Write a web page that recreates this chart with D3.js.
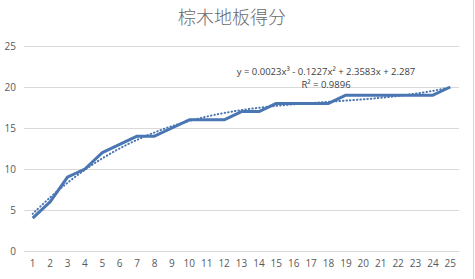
<!DOCTYPE html>
<html>
<head>
<meta charset="utf-8">
<script src="https://cdn.jsdelivr.net/npm/d3@7"></script>
<style>
  body { margin: 0; background: #fff; }
  svg { display: block; }
</style>
</head>
<body>
<div class="top"></div>
<script>
// chart data
const title = '棕木地板得分';
const categories = d3.range(1, 26).map(String);
const scores = [4, 6, 9, 10, 12, 13, 14, 14, 15, 16, 16, 16, 17, 17, 18, 18, 18, 18, 19, 19, 19, 19, 19, 19, 20];
const yTicks = [0, 5, 10, 15, 20, 25];
const trendLabel = 'y = 0.0023x³ - 0.1227x² + 2.3583x + 2.287';
const r2Label = 'R² = 0.9896';

const width = 475;
const height = 279;
const margin = { top: 46, right: 16, bottom: 28, left: 24 };

// least squares cubic fit of the scores (what the sheet's trendline is)
function polyFit(xs, ys, deg) {
  const n = deg + 1;
  const A = d3.range(n).map(r => d3.range(n + 1).map(c => 0));
  xs.forEach((xv, i) => {
    for (let r = 0; r < n; r++) {
      for (let c = 0; c < n; c++) A[r][c] += Math.pow(xv, r + c);
      A[r][n] += ys[i] * Math.pow(xv, r);
    }
  });
  for (let p = 0; p < n; p++) {
    let best = p;
    for (let r = p + 1; r < n; r++) if (Math.abs(A[r][p]) > Math.abs(A[best][p])) best = r;
    [A[p], A[best]] = [A[best], A[p]];
    for (let r = 0; r < n; r++) {
      if (r === p) continue;
      const f = A[r][p] / A[p][p];
      for (let c = p; c <= n; c++) A[r][c] -= f * A[p][c];
    }
  }
  return A.map((row, r) => row[n] / row[r]);
}

const xsNum = categories.map(Number);
const coef = polyFit(xsNum, scores, 3);
const trendAt = v => coef.reduce((s, c, k) => s + c * Math.pow(v, k), 0);

const svg = d3.select('.top').append('svg')
  .attr('width', width)
  .attr('height', height);

const x = d3.scaleBand()
  .domain(categories)
  .range([margin.left, width - margin.right])
  .padding(0);

const y = d3.scaleLinear()
  .domain([0, 25])
  .range([height - margin.bottom, margin.top]);

const cx = d => x(d) + x.bandwidth() / 2;

// title
svg.append('text')
  .attr('x', 232)
  .attr('y', 24)
  .attr('text-anchor', 'middle')
  .attr('font-family', '"Noto Sans CJK SC", sans-serif')
  .attr('font-weight', 300)
  .attr('font-size', 18)
  .attr('fill', '#6a6a6a')
  .text(title);

// gridlines
svg.append('g')
  .selectAll('line')
  .data(yTicks)
  .join('line')
  .attr('x1', margin.left)
  .attr('x2', width - margin.right)
  .attr('y1', d => Math.round(y(d)) + 0.5)
  .attr('y2', d => Math.round(y(d)) + 0.5)
  .attr('stroke', '#d9d9d9')
  .attr('stroke-width', 1);

// y axis labels
const yAxis = svg.append('g')
  .attr('transform', `translate(${margin.left - 8},0)`)
  .call(d3.axisLeft(y).tickValues(yTicks).tickSize(0).tickPadding(0));
yAxis.select('.domain').remove();
yAxis.selectAll('text')
  .attr('font-family', '"Open Sans", sans-serif')
  .attr('font-size', 10)
  .attr('fill', '#595959');

// x axis labels
const xAxis = svg.append('g')
  .attr('transform', `translate(0,${height - margin.bottom + 9})`)
  .call(d3.axisBottom(x).tickSize(0).tickPadding(0));
xAxis.select('.domain').remove();
xAxis.selectAll('text')
  .attr('font-family', '"Open Sans", sans-serif')
  .attr('font-size', 10)
  .attr('fill', '#595959');

// data line
const valueline = d3.line()
  .x((d, i) => cx(categories[i]))
  .y(d => y(d));

svg.append('path')
  .datum(scores)
  .attr('fill', 'none')
  .attr('stroke', '#4a76b2')
  .attr('stroke-width', 3)
  .attr('stroke-linejoin', 'round')
  .attr('d', valueline);

// trendline
const trendline = d3.line()
  .x((d, i) => cx(categories[i]))
  .y(d => y(d))
  .curve(d3.curveCatmullRom);

svg.append('path')
  .datum(xsNum.map(trendAt))
  .attr('fill', 'none')
  .attr('stroke', '#4a76b2')
  .attr('stroke-width', 2)
  .attr('stroke-linecap', 'round')
  .attr('stroke-dasharray', '0.5 3')
  .attr('d', trendline);

// trendline equation
svg.append('text')
  .attr('x', 326)
  .attr('y', 75)
  .attr('text-anchor', 'middle')
  .attr('font-family', '"Open Sans", sans-serif')
  .attr('font-size', 9.5)
  .attr('fill', '#404040')
  .text(trendLabel);

svg.append('text')
  .attr('x', 326)
  .attr('y', 88)
  .attr('text-anchor', 'middle')
  .attr('font-family', '"Open Sans", sans-serif')
  .attr('font-size', 9.5)
  .attr('fill', '#404040')
  .text(r2Label);

// sheet edge on the right
svg.append('line')
  .attr('x1', 473.5).attr('x2', 473.5)
  .attr('y1', 0).attr('y2', height)
  .attr('stroke', '#d4d4d4');
</script>
</body>
</html>
